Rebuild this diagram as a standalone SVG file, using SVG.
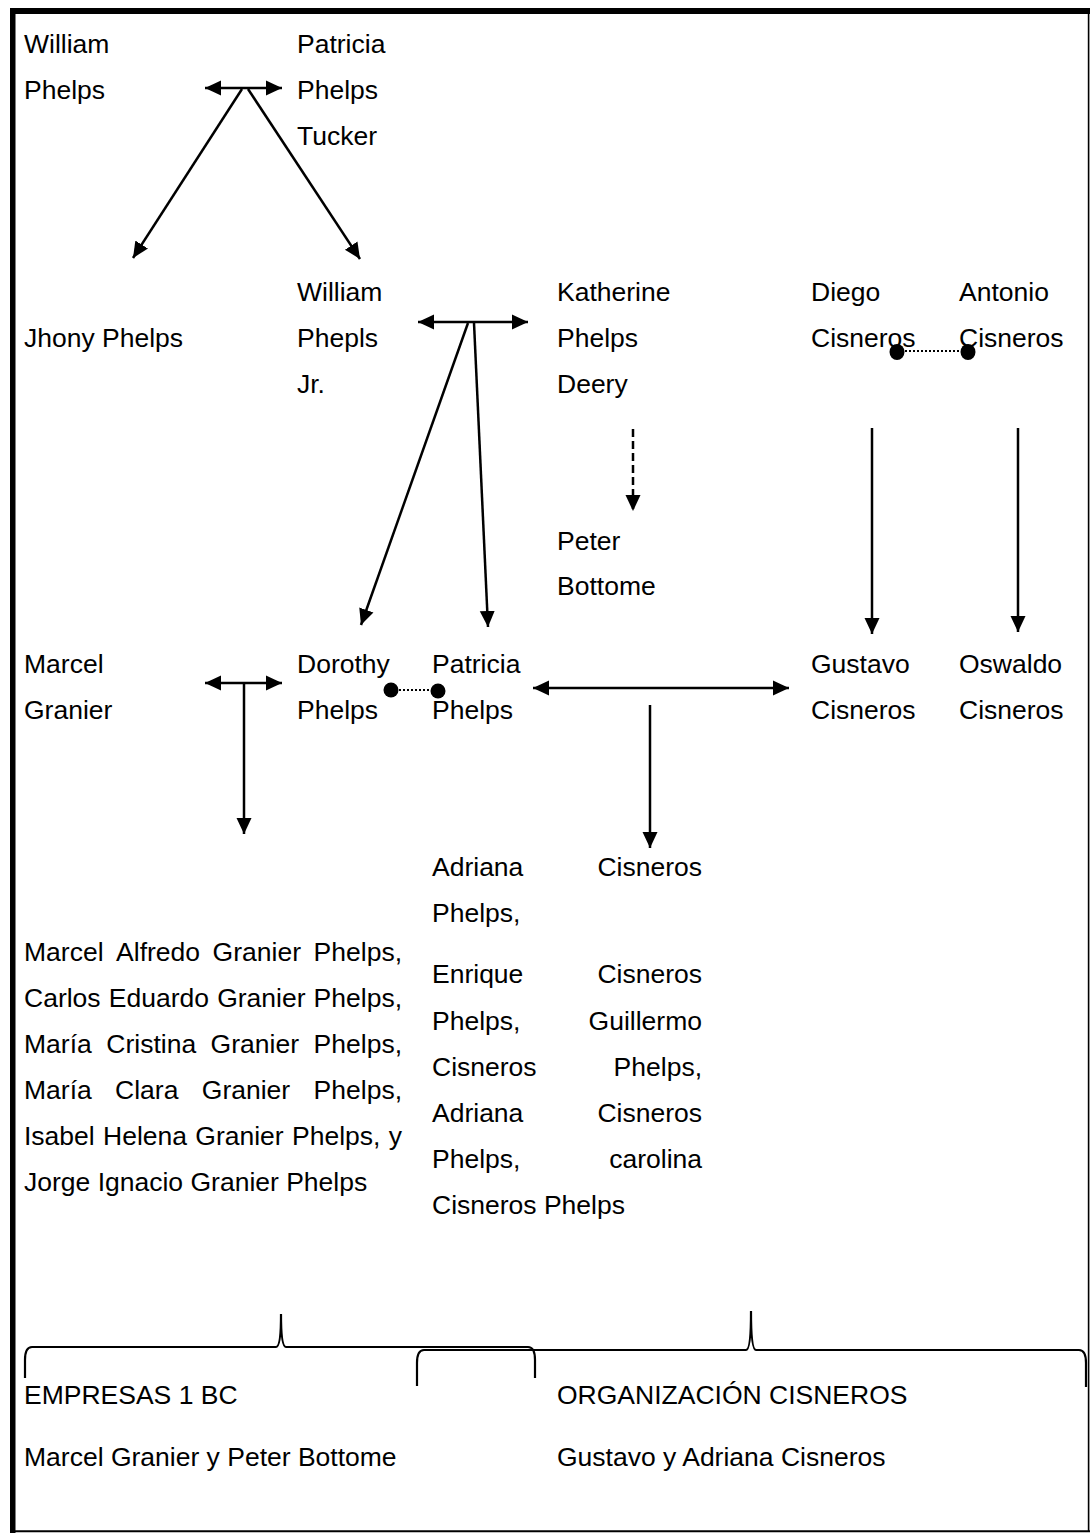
<svg xmlns="http://www.w3.org/2000/svg" width="1090" height="1533" viewBox="0 0 1090 1533">
  <style>
    text { font-family: "Liberation Sans", Arial, sans-serif; font-size: 26.5px; fill: #000; }
    .end { text-anchor: end; }
    .ln { stroke: #000; stroke-width: 2.5; fill: none; }
    .dash { stroke-dasharray: 8 4; }
    .dot { stroke-dasharray: 2 2; stroke-width: 2.2; }
    .brace { stroke: #000; stroke-width: 2.2; fill: none; }
  </style>
  <defs>
    <marker id="arrow" markerUnits="userSpaceOnUse" markerWidth="18" markerHeight="18" refX="16" refY="9" orient="auto-start-reverse" viewBox="0 0 18 18">
      <path d="M0,1.5 L16,9 L0,16.5 Z" fill="#000"/>
    </marker>
  </defs>

  <rect width="1090" height="1533" fill="#fff"/>

  <!-- frame: heavy top/left edge, thin right/bottom edge -->
  <g id="frame">
    <rect x="10" y="8" width="1080" height="6" fill="#000"/>
    <rect x="10" y="8" width="5.5" height="1525" fill="#000"/>
    <line x1="1088.6" y1="8" x2="1088.6" y2="1532" stroke="#000" stroke-width="1.6"/>
    <line x1="10" y1="1531.2" x2="1090" y2="1531.2" stroke="#000" stroke-width="2"/>
  </g>

  <!-- people -->
  <g id="william-phelps"><text x="24" y="52.5">William</text><text x="24" y="98.5">Phelps</text></g>
  <g id="patricia-phelps-tucker"><text x="297" y="52.5">Patricia</text><text x="297" y="98.5">Phelps</text><text x="297" y="144.5">Tucker</text></g>
  <g id="jhony-phelps"><text x="24" y="346.5">Jhony Phelps</text></g>
  <g id="william-phepls-jr"><text x="297" y="300.5">William</text><text x="297" y="346.5">Phepls</text><text x="297" y="392.5">Jr.</text></g>
  <g id="katherine-phelps-deery"><text x="557" y="300.5">Katherine</text><text x="557" y="346.5">Phelps</text><text x="557" y="392.5">Deery</text></g>
  <g id="diego-cisneros"><text x="811" y="300.5">Diego</text><text x="811" y="346.5">Cisneros</text></g>
  <g id="antonio-cisneros"><text x="959" y="300.5">Antonio</text><text x="959" y="346.5">Cisneros</text></g>
  <g id="peter-bottome"><text x="557" y="549.5">Peter</text><text x="557" y="594.5">Bottome</text></g>
  <g id="marcel-granier"><text x="24" y="672.5">Marcel</text><text x="24" y="718.5">Granier</text></g>
  <g id="dorothy-phelps"><text x="297" y="672.5">Dorothy</text><text x="297" y="718.5">Phelps</text></g>
  <g id="patricia-phelps"><text x="432" y="672.5">Patricia</text><text x="432" y="718.5">Phelps</text></g>
  <g id="gustavo-cisneros"><text x="811" y="672.5">Gustavo</text><text x="811" y="718.5">Cisneros</text></g>
  <g id="oswaldo-cisneros"><text x="959" y="672.5">Oswaldo</text><text x="959" y="718.5">Cisneros</text></g>

  <!-- children of Patricia Phelps and Gustavo Cisneros (justified paragraph) -->
  <g id="cisneros-children">
    <text x="432" y="875.5">Adriana</text><text class="end" x="702" y="875.5">Cisneros</text>
    <text x="432" y="921.5">Phelps,</text>
    <text x="432" y="982.5">Enrique</text><text class="end" x="702" y="982.5">Cisneros</text>
    <text x="432" y="1029.5">Phelps,</text><text class="end" x="702" y="1029.5">Guillermo</text>
    <text x="432" y="1075.5">Cisneros</text><text class="end" x="702" y="1075.5">Phelps,</text>
    <text x="432" y="1121.5">Adriana</text><text class="end" x="702" y="1121.5">Cisneros</text>
    <text x="432" y="1167.5">Phelps,</text><text class="end" x="702" y="1167.5">carolina</text>
    <text x="432" y="1213.5">Cisneros Phelps</text>
  </g>

  <!-- children of Marcel Granier and Dorothy Phelps (justified paragraph) -->
  <g id="granier-children">
    <text y="960.5"><tspan x="24">Marcel</tspan><tspan x="116.1">Alfredo</tspan><tspan x="212.6">Granier</tspan></text><text class="end" x="402" y="960.5">Phelps,</text>
    <text y="1006.5"><tspan x="24">Carlos</tspan><tspan x="108.8">Eduardo</tspan><tspan x="217.2">Granier</tspan></text><text class="end" x="402" y="1006.5">Phelps,</text>
    <text y="1052.5"><tspan x="24">María</tspan><tspan x="106.3">Cristina</tspan><tspan x="210.6">Granier</tspan></text><text class="end" x="402" y="1052.5">Phelps,</text>
    <text y="1098.5"><tspan x="24">María</tspan><tspan x="115.1">Clara</tspan><tspan x="201.8">Granier</tspan></text><text class="end" x="402" y="1098.5">Phelps,</text>
    <text y="1144.5"><tspan x="24">Isabel</tspan><tspan x="103">Helena</tspan><tspan x="195.3">Granier</tspan><tspan x="292">Phelps,</tspan></text><text class="end" x="402" y="1144.5">y</text>
    <text x="24" y="1190.5">Jorge Ignacio Granier Phelps</text>
  </g>

  <!-- companies -->
  <g id="empresas-1bc"><text x="24" y="1403.5">EMPRESAS 1 BC</text><text x="24" y="1465.5">Marcel Granier y Peter Bottome</text></g>
  <g id="organizacion-cisneros"><text x="557" y="1403.5">ORGANIZACIÓN CISNEROS</text><text x="557" y="1465.5">Gustavo y Adriana Cisneros</text></g>

  <!-- braces grouping families under each company -->
  <g id="braces">
    <path class="brace" d="M25,1378 L25,1360 Q25,1347 32,1347 L276,1347 Q281,1347 281,1314 Q281,1347 286,1347 L528,1347 Q535,1347 535,1360 L535,1378"/>
    <path class="brace" d="M417,1386 L417,1363 Q417,1350 424,1350 L746,1350 Q751,1350 751,1311 Q751,1350 756,1350 L1079,1350 Q1086,1350 1086,1363 L1086,1387"/>
  </g>

  <!-- connectors -->
  <g id="connectors">
    <line class="ln" x1="205" y1="88" x2="282" y2="88" marker-start="url(#arrow)" marker-end="url(#arrow)"/>
    <line class="ln" x1="242" y1="89" x2="133" y2="258" marker-end="url(#arrow)"/>
    <line class="ln" x1="248" y1="89" x2="360" y2="259" marker-end="url(#arrow)"/>

    <line class="ln" x1="418" y1="322" x2="528" y2="322" marker-start="url(#arrow)" marker-end="url(#arrow)"/>
    <line class="ln" x1="468" y1="323" x2="361" y2="625" marker-end="url(#arrow)"/>
    <line class="ln" x1="474" y1="323" x2="488" y2="627" marker-end="url(#arrow)"/>

    <line class="ln dash" x1="633" y1="429" x2="633" y2="511" marker-end="url(#arrow)"/>

    <line class="ln dot" x1="897" y1="351" x2="968" y2="351"/>
    <ellipse cx="897" cy="352" rx="7.5" ry="8"/>
    <ellipse cx="968" cy="352" rx="7.5" ry="8"/>
    <line class="ln" x1="872" y1="428" x2="872" y2="634" marker-end="url(#arrow)"/>
    <line class="ln" x1="1018" y1="428" x2="1018" y2="632" marker-end="url(#arrow)"/>

    <line class="ln" x1="205" y1="683" x2="282" y2="683" marker-start="url(#arrow)" marker-end="url(#arrow)"/>
    <line class="ln" x1="244" y1="683" x2="244" y2="834" marker-end="url(#arrow)"/>

    <line class="ln dot" x1="391" y1="690" x2="438" y2="690"/>
    <circle cx="391" cy="690" r="7.5"/>
    <circle cx="438" cy="691" r="7.5"/>

    <line class="ln" x1="533" y1="688" x2="789" y2="688" marker-start="url(#arrow)" marker-end="url(#arrow)"/>
    <line class="ln" x1="650" y1="705" x2="650" y2="848" marker-end="url(#arrow)"/>
  </g>
</svg>
